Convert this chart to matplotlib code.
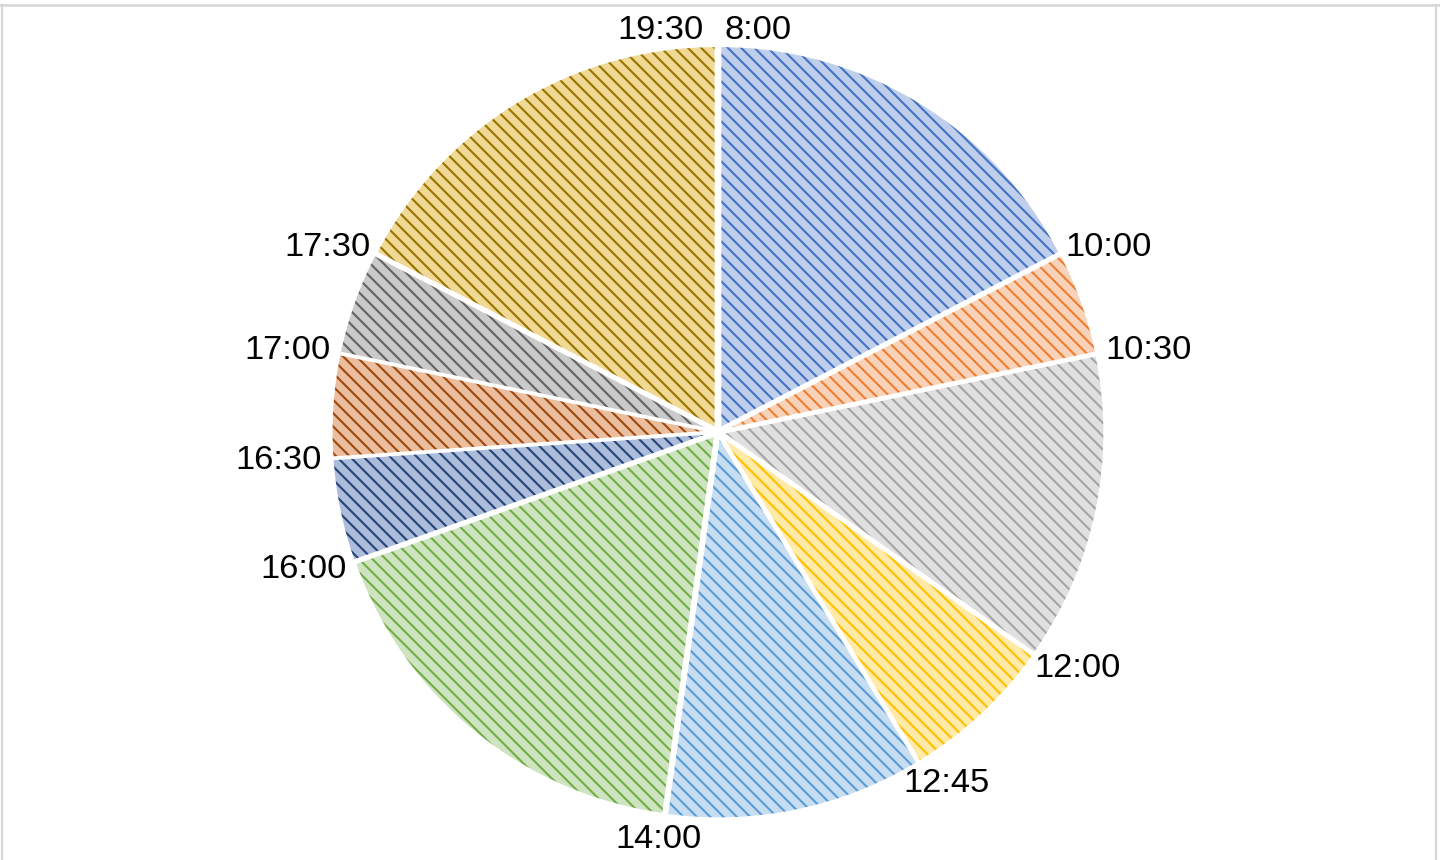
import colorsys
import numpy as np
import matplotlib
matplotlib.use('Agg')
import matplotlib.pyplot as plt
from matplotlib.colors import to_rgb
from matplotlib.lines import Line2D

# schedule: boundary times and the length of each block (hours)
times = ['8:00', '10:00', '10:30', '12:00', '12:45', '14:00',
         '16:00', '16:30', '17:00', '17:30', '19:30']
hours = [2, 0.5, 1.5, 0.75, 1.25, 2, 0.5, 0.5, 0.5, 2]
colors = ['#4472C4', '#ED7D31', '#A5A5A5', '#FFC000', '#5B9BD5',
          '#70AD47', '#264478', '#9E480E', '#636363', '#997300']

W, H, DPI = 1440, 860, 80
cx, cy, R = 718, 860 - 432, 383   # pie centre / radius in pixels

plt.rcParams['font.family'] = ['Liberation Sans', 'DejaVu Sans']
plt.rcParams['hatch.linewidth'] = 1.9

def tint(c, a=0.62):
    # half office-style HSL lightening, half plain white mix
    rgb = np.array(to_rgb(c))
    h, l, s = colorsys.rgb_to_hls(*rgb)
    hsl = np.array(colorsys.hls_to_rgb(h, l + (1 - l) * a, s))
    mix = 1 - (1 - rgb) * 0.3
    return tuple(0.5 * hsl + 0.5 * mix)

fig = plt.figure(figsize=(W / DPI, H / DPI), dpi=DPI)
ax = fig.add_axes([0, 0, 1, 1])

explode = [0.01] * len(hours)
wedges, _ = ax.pie(hours, startangle=90, counterclock=False, explode=explode,
                   wedgeprops=dict(linewidth=0))
for w, c in zip(wedges, colors):
    w.set_facecolor(tint(c))
    w.set_edgecolor(c)
    w.set_hatch('\\\\')
    w.set_linewidth(0)

# white separators on top
ax.pie(hours, startangle=90, counterclock=False, explode=explode,
       wedgeprops=dict(fill=False, edgecolor='white', linewidth=2.5))

ax.set_aspect('auto')
ax.set_xlim(-cx / R, (W - cx) / R)
ax.set_ylim(-cy / R, (H - cy) / R)
ax.axis('off')

# boundary angles (clockwise from 8:00)
angles = [w.theta2 for w in wedges] + [wedges[-1].theta1]

fig.canvas.draw()
rend = fig.canvas.get_renderer()
gap = 14 / R
for i, (t, a) in enumerate(zip(times, angles)):
    txt = ax.text(0, 0, t, fontsize=31, ha='center', va='center', color='black')
    bb = txt.get_window_extent(renderer=rend)
    ux, uy = np.cos(np.radians(a)), np.sin(np.radians(a))
    k = 0.3 if uy >= 0 else 0.9
    w_, h_ = bb.width / R, (bb.height * k) / R
    x = ux * (1 + gap) + ux * w_ / 2
    y = uy * (1 + gap) + uy * h_ / 2
    if i == 0:
        x += w_ / 2 + 6 / R
    elif i == len(times) - 1:
        x -= w_ / 2 + 14 / R
    txt.set_position((x, y))

# light chart-area frame
fc = '#d9d9d9'
fig.add_artist(Line2D([0, 1], [1 - 5 / H, 1 - 5 / H], transform=fig.transFigure, color=fc, lw=2.5))
fig.add_artist(Line2D([2 / W, 2 / W], [0, 1 - 5 / H], transform=fig.transFigure, color=fc, lw=2))
fig.add_artist(Line2D([1 - 4 / W, 1 - 4 / W], [0, 1 - 5 / H], transform=fig.transFigure, color=fc, lw=2))

fig.savefig('out.png', dpi=DPI)
